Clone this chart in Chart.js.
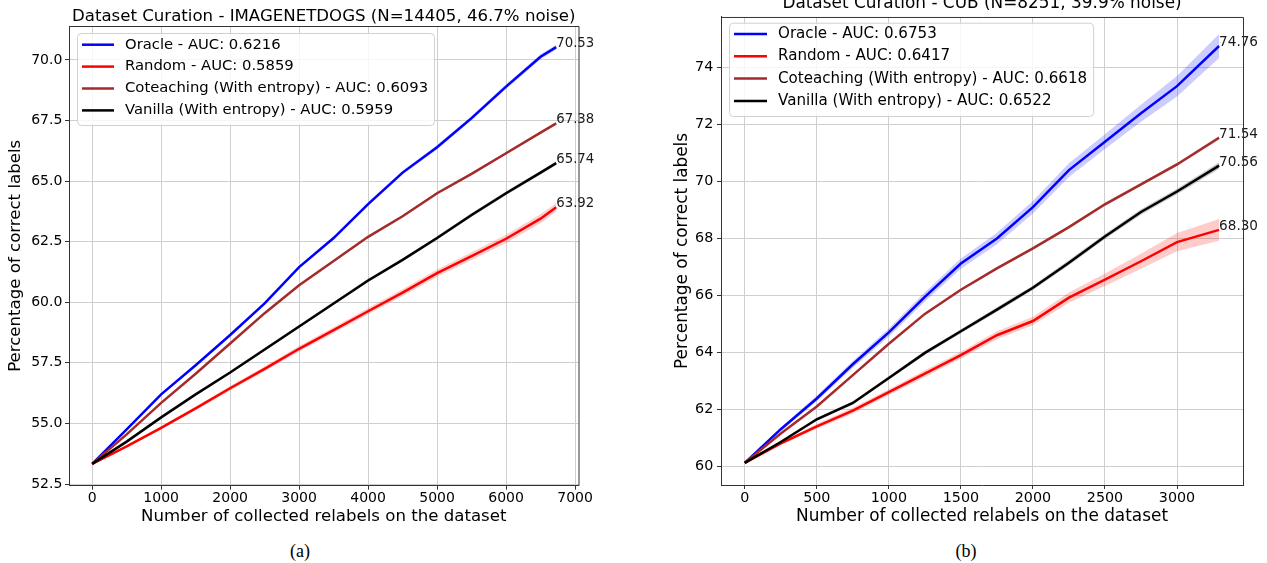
<!DOCTYPE html>
<html>
<head>
<meta charset="utf-8">
<script src="https://cdn.jsdelivr.net/npm/chart.js@4.4.1/dist/chart.umd.min.js"></script>
<style>
  html, body { margin: 0; padding: 0; background: #fff; }
  body { width: 1267px; height: 563px; position: relative; overflow: hidden; }
  .cv { position: absolute; }
  .cap { position: absolute; font-family: "Liberation Serif", serif; font-size: 18px; color: #000; transform: translate(-50%, -50%); }
</style>
</head>
<body>
<canvas id="c1" class="cv" width="620" height="530" style="left:0px;top:0px"></canvas>
<canvas id="c2" class="cv" width="627" height="540" style="left:640px;top:-10px"></canvas>
<div class="cap" style="left:300px;top:551px">(a)</div>
<div class="cap" style="left:966px;top:551px">(b)</div>
<script>
// ---------------- DATA ----------------
// (a) IMAGENETDOGS
const titleA = "Dataset Curation - IMAGENETDOGS (N=14405, 46.7% noise)";
const xA = [0, 500, 1000, 1500, 2000, 2500, 3000, 3500, 4000, 4500, 5000, 5500, 6000, 6500, 6727];
const oracleA   = [53.33, 54.75, 56.20, 57.40, 58.65, 59.95, 61.45, 62.65, 64.05, 65.35, 66.40, 67.60, 68.90, 70.13, 70.53];
const randomA   = [53.33, 54.05, 54.82, 55.62, 56.45, 57.25, 58.08, 58.85, 59.63, 60.40, 61.20, 61.90, 62.62, 63.45, 63.92];
const coteachA  = [53.33, 54.55, 55.85, 57.05, 58.30, 59.55, 60.70, 61.70, 62.70, 63.55, 64.50, 65.30, 66.15, 67.00, 67.38];
const vanillaA  = [53.33, 54.25, 55.25, 56.20, 57.10, 58.05, 59.00, 59.95, 60.90, 61.75, 62.65, 63.60, 64.50, 65.35, 65.74];
const oracleBandA  = [0, 0.03, 0.04, 0.05, 0.05, 0.06, 0.06, 0.07, 0.08, 0.08, 0.09, 0.09, 0.10, 0.10, 0.10];
const randomBandA  = [0, 0.04, 0.06, 0.08, 0.09, 0.10, 0.11, 0.12, 0.13, 0.14, 0.15, 0.16, 0.17, 0.18, 0.18];
const coteachBandA = [0, 0.02, 0.03, 0.03, 0.03, 0.04, 0.04, 0.04, 0.04, 0.05, 0.05, 0.05, 0.05, 0.05, 0.05];
const vanillaBandA = [0, 0.03, 0.04, 0.05, 0.05, 0.06, 0.06, 0.06, 0.07, 0.07, 0.07, 0.08, 0.08, 0.08, 0.08];
const labelsA = ["Oracle - AUC: 0.6216", "Random - AUC: 0.5859", "Coteaching (With entropy) - AUC: 0.6093", "Vanilla (With entropy) - AUC: 0.5959"];
const xTicksA = [0, 1000, 2000, 3000, 4000, 5000, 6000, 7000];
const yTicksA = [52.5, 55.0, 57.5, 60.0, 62.5, 65.0, 67.5, 70.0];

// (b) CUB
const titleB = "Dataset Curation - CUB (N=8251, 39.9% noise)";
const xB = [0, 250, 500, 750, 1000, 1250, 1500, 1750, 2000, 2250, 2500, 2750, 3000, 3292];
const oracleB  = [60.12, 61.30, 62.38, 63.58, 64.70, 65.95, 67.12, 68.00, 69.10, 70.40, 71.40, 72.40, 73.35, 74.76];
const randomB  = [60.12, 60.80, 61.40, 61.95, 62.60, 63.25, 63.90, 64.60, 65.10, 65.92, 66.55, 67.20, 67.87, 68.30];
const coteachB = [60.12, 61.15, 62.10, 63.20, 64.30, 65.35, 66.20, 66.95, 67.65, 68.40, 69.20, 69.90, 70.60, 71.54];
const vanillaB = [60.12, 60.85, 61.65, 62.22, 63.10, 63.98, 64.74, 65.50, 66.27, 67.15, 68.07, 68.93, 69.65, 70.56];
const oracleBandB  = [0, 0.06, 0.10, 0.12, 0.14, 0.16, 0.18, 0.20, 0.22, 0.24, 0.26, 0.30, 0.36, 0.42];
const randomBandB  = [0, 0.06, 0.08, 0.10, 0.10, 0.12, 0.12, 0.14, 0.15, 0.18, 0.22, 0.26, 0.32, 0.38];
const coteachBandB = [0, 0.02, 0.03, 0.03, 0.04, 0.04, 0.04, 0.05, 0.05, 0.05, 0.06, 0.06, 0.06, 0.07];
const vanillaBandB = [0, 0.04, 0.05, 0.06, 0.06, 0.07, 0.07, 0.08, 0.08, 0.09, 0.09, 0.10, 0.10, 0.12];
const labelsB = ["Oracle - AUC: 0.6753", "Random - AUC: 0.6417", "Coteaching (With entropy) - AUC: 0.6618", "Vanilla (With entropy) - AUC: 0.6522"];
const xTicksB = [0, 500, 1000, 1500, 2000, 2500, 3000];
const yTicksB = [60, 62, 64, 66, 68, 70, 72, 74];

const xTitle = "Number of collected relabels on the dataset";
const yTitle = "Percentage of correct labels";
const seriesColors = ["#0000ff", "#ff0000", "#a52a2a", "#000000"];
const bandColors = ["rgba(0,0,255,0.2)", "rgba(255,0,0,0.2)", "rgba(165,42,42,0.2)", "rgba(0,0,0,0.2)"];

// ---------------- CHART BUILDING ----------------
const FONT = '"DejaVu Sans", sans-serif';
Chart.defaults.font.family = FONT;
Chart.defaults.color = '#000';

function buildDatasets(xs, lines, bands, labels) {
  const sets = [];
  lines.forEach((ys, k) => {
    sets.push({ data: xs.map((x, i) => ({ x, y: ys[i] - bands[k][i] })), borderColor: 'transparent', borderWidth: 0, pointRadius: 0, fill: false, order: 10 });
    sets.push({ data: xs.map((x, i) => ({ x, y: ys[i] + bands[k][i] })), borderColor: 'transparent', borderWidth: 0, pointRadius: 0, fill: '-1', backgroundColor: bandColors[k], order: 10 });
  });
  lines.forEach((ys, k) => {
    sets.push({ label: labels[k], isMain: true, data: xs.map((x, i) => ({ x, y: ys[i] })), borderColor: seriesColors[k], backgroundColor: seriesColors[k], borderWidth: 2.5, pointRadius: 0, fill: false, tension: 0, order: 4 - k });
  });
  return sets;
}

const mplPlugin = {
  id: 'mpl',
  afterDatasetsDraw(chart, args, o) {
    const ctx = chart.ctx;
    ctx.save();
    // end-of-line value annotations
    ctx.font = o.annSize + 'px ' + FONT;
    ctx.fillStyle = '#1a1a1a';
    ctx.textAlign = 'left';
    ctx.textBaseline = 'alphabetic';
    chart.data.datasets.forEach((d, i) => {
      if (!d.isMain) return;
      const meta = chart.getDatasetMeta(i);
      const p = meta.data[meta.data.length - 1];
      const v = d.data[d.data.length - 1].y;
      ctx.fillText(v.toFixed(2), p.x, p.y);
    });
    // legend
    const L = o.legend;
    const items = chart.data.datasets.filter(d => d.isMain);
    ctx.font = L.size + 'px ' + FONT;
    const tw = Math.max(...items.map(d => ctx.measureText(d.label).width));
    const w = L.textX - L.x + tw + L.padR;
    ctx.beginPath();
    ctx.roundRect(L.x + 0.5, L.y + 0.5, w, L.h, 4);
    ctx.fillStyle = 'rgba(255,255,255,0.8)';
    ctx.fill();
    ctx.strokeStyle = 'rgba(204,204,204,0.9)';
    ctx.lineWidth = 1;
    ctx.stroke();
    ctx.textBaseline = 'middle';
    items.forEach((d, i) => {
      const y = L.row0 + i * L.rowH;
      ctx.beginPath();
      ctx.moveTo(L.hx0, y); ctx.lineTo(L.hx1, y);
      ctx.strokeStyle = d.borderColor; ctx.lineWidth = 2.5; ctx.stroke();
      ctx.fillStyle = '#000';
      ctx.fillText(d.label, L.textX, y);
    });
    // frame (top & right spines)
    const a = chart.chartArea;
    ctx.strokeStyle = '#333'; ctx.lineWidth = 1;
    ctx.beginPath();
    ctx.moveTo(a.left, a.top + 0.5); ctx.lineTo(a.right + 0.5, a.top + 0.5); ctx.lineTo(a.right + 0.5, a.bottom);
    ctx.stroke();
    ctx.restore();
  }
};

function makeChart(id, p) {
  const ctx = document.getElementById(id);
  return new Chart(ctx, {
    type: 'line',
    data: { datasets: buildDatasets(p.xs, p.lines, p.bands, p.labels) },
    plugins: [mplPlugin],
    options: {
      responsive: false, animation: false, events: [],
      layout: { padding: { left: 0, top: 0, right: p.padRight, bottom: 0 } },
      plugins: {
        legend: { display: false },
        tooltip: { enabled: false },
        title: { display: true, fullSize: false, text: p.title, color: '#000', font: { size: p.titleSize, weight: 'normal', family: FONT, lineHeight: 1.2 }, padding: { top: p.titlePadTop, bottom: p.titlePadBottom } },
        filler: { propagate: false },
        mpl: { annSize: p.annSize, legend: p.legend }
      },
      scales: {
        x: {
          type: 'linear', min: p.xmin, max: p.xmax,
          afterBuildTicks: s => { s.ticks = p.xTicks.map(v => ({ value: v })); },
          afterFit: s => { s.height = p.xAxisH; },
          ticks: { font: { size: p.tickSize, family: FONT }, color: '#000', padding: p.xTickPad, maxRotation: 0, autoSkip: false, callback: v => String(v) },
          grid: { color: '#cfcfcf', lineWidth: 1, tickColor: '#333', tickLength: 4 },
          border: { color: '#333', width: 1 },
          title: { display: true, text: xTitle, color: '#000', font: { size: p.titleSize, family: FONT, lineHeight: 1.2 }, padding: { top: 0, bottom: p.xTitlePadB } }
        },
        y: {
          type: 'linear', min: p.ymin, max: p.ymax,
          afterBuildTicks: s => { s.ticks = p.yTicks.map(v => ({ value: v })); },
          afterFit: s => { s.width = p.yAxisW; },
          ticks: { font: { size: p.tickSize, family: FONT }, color: '#000', padding: p.yTickPad, autoSkip: false, callback: v => p.yFmt(v) },
          grid: { color: '#cfcfcf', lineWidth: 1, tickColor: '#333', tickLength: 4 },
          border: { color: '#333', width: 1 },
          title: { display: true, text: yTitle, color: '#000', font: { size: p.titleSize, family: FONT, lineHeight: 1.2 }, padding: { top: p.yTitlePadT, bottom: 0 } }
        }
      }
    }
  });
}

makeChart('c1', {
  xs: xA, lines: [oracleA, randomA, coteachA, vanillaA], bands: [oracleBandA, randomBandA, coteachBandA, vanillaBandA], labels: labelsA,
  title: titleA, titleSize: 16.6, titlePadTop: 6.5, titlePadBottom: -0.42,
  padRight: 41.5, xmin: -336, xmax: 7050, ymin: 52.43, ymax: 71.40,
  xTicks: xTicksA, yTicks: yTicksA, yFmt: v => v.toFixed(1),
  xAxisH: 44.3, yAxisW: 69, tickSize: 14, xTickPad: 0.5, yTickPad: 2.7, xTitlePadB: 3.3, yTitlePadT: 5.8,
  annSize: 13.3,
  legend: { x: 77, y: 33, h: 92, row0: 44.7, rowH: 21.9, hx0: 82, hx1: 114, textX: 125, size: 14.8, padR: 6 }
});

makeChart('c2', {
  xs: xB, lines: [oracleB, randomB, coteachB, vanillaB], bands: [oracleBandB, randomBandB, coteachBandB, vanillaBandB], labels: labelsB,
  title: titleB, titleSize: 16.9, titlePadTop: 3.4, titlePadBottom: 3.3,
  padRight: 24, xmin: -165, xmax: 3458, ymin: 59.34, ymax: 75.78,
  xTicks: xTicksB, yTicks: yTicksB, yFmt: v => String(v),
  xAxisH: 45, yAxisW: 81, tickSize: 14.3, xTickPad: 1, yTickPad: 3.7, xTitlePadB: 3.2, yTitlePadT: 32.4,
  annSize: 13.6,
  legend: { x: 89, y: 32.7, h: 93.3, row0: 44, rowH: 22.3, hx0: 94, hx1: 127, textX: 138, size: 15.1, padR: 6 }
});
</script>
</body>
</html>
